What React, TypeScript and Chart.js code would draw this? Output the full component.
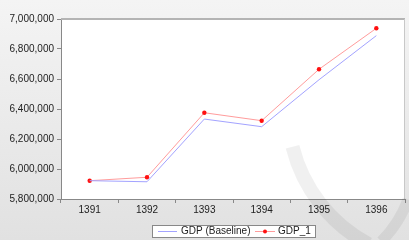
import React, { useEffect, useRef } from "react";
import { Chart, registerables } from "chart.js";

Chart.register(...registerables);

const years = ["1391", "1392", "1393", "1394", "1395", "1396"];
const gdpBaseline = [5922000, 5915000, 6333000, 6282000, 6595000, 6889000];
const gdp1 = [5922000, 5945000, 6375000, 6322000, 6665000, 6938000];
const yMin = 5800000;
const yMax = 7000000;
const yStep = 200000;
const legendLabels = ["GDP (Baseline)", "GDP_1"];

const FONT = "'Liberation Sans', Arial, sans-serif";
const BLUE = "#a3a3ff";
const RED = "#ff9c9c";
const RED_DOT = "#ff1010";

const framePlugin = {
  id: "frame",
  beforeDraw(chart: any) {
    const { ctx, width, height, chartArea } = chart;
    ctx.save();
    const g = ctx.createLinearGradient(0, 0, 0, height);
    g.addColorStop(0, "#f4f4f4");
    g.addColorStop(1, "#e1e1e1");
    ctx.fillStyle = g;
    ctx.fillRect(0, 0, width, height);
    ctx.fillStyle = "#ffffff";
    ctx.fillRect(chartArea.left, chartArea.top, chartArea.right - chartArea.left, chartArea.bottom - chartArea.top);
    ctx.restore();
  },
  afterDraw(chart: any) {
    const { ctx, chartArea } = chart;
    ctx.save();
    // frame lines
    ctx.strokeStyle = "#b4b4b4";
    ctx.lineWidth = 2;
    ctx.beginPath();
    ctx.moveTo(chartArea.left, chartArea.top);
    ctx.lineTo(chartArea.right, chartArea.top);
    ctx.stroke();
    ctx.lineWidth = 1;
    ctx.strokeStyle = "#c8c8c8";
    ctx.beginPath();
    ctx.moveTo(chartArea.right - 0.5, chartArea.top);
    ctx.lineTo(chartArea.right - 0.5, chartArea.bottom);
    ctx.stroke();

    // faint watermark arcs
    ctx.globalAlpha = 0.06;
    ctx.strokeStyle = "#000000";
    ctx.lineWidth = 14;
    ctx.beginPath();
    ctx.arc(440, 110, 152, (118 * Math.PI) / 180, (166 * Math.PI) / 180);
    ctx.stroke();
    ctx.lineWidth = 11;
    ctx.beginPath();
    ctx.arc(300, 160, 115, (20 * Math.PI) / 180, (45 * Math.PI) / 180);
    ctx.stroke();
    ctx.globalAlpha = 1;

    // legend
    const bx = 152.5, by = 225.5, bw = 163, bh = 12;
    ctx.fillStyle = "#ffffff";
    ctx.fillRect(bx, by, bw, bh);
    ctx.strokeStyle = "#888888";
    ctx.lineWidth = 1;
    ctx.strokeRect(bx, by, bw, bh);
    const cy = 231.5;
    ctx.strokeStyle = BLUE;
    ctx.beginPath();
    ctx.moveTo(158, cy);
    ctx.lineTo(177, cy);
    ctx.stroke();
    ctx.strokeStyle = RED;
    ctx.beginPath();
    ctx.moveTo(255, cy);
    ctx.lineTo(275, cy);
    ctx.stroke();
    ctx.fillStyle = RED_DOT;
    ctx.beginPath();
    ctx.arc(265, cy, 2, 0, Math.PI * 2);
    ctx.fill();
    ctx.fillStyle = "#222222";
    ctx.font = `10px ${FONT}`;
    ctx.textBaseline = "middle";
    ctx.textAlign = "left";
    ctx.fillText(legendLabels[0], 181, cy);
    ctx.fillText(legendLabels[1], 278, cy);
    ctx.restore();
  },
};

export default function App() {
  const ref = useRef<HTMLCanvasElement>(null);
  useEffect(() => {
    document.body.style.margin = "0";
    const chart = new Chart(ref.current!, {
      type: "line",
      data: {
        labels: years,
        datasets: [
          {
            label: legendLabels[0],
            data: gdpBaseline,
            borderColor: BLUE,
            borderWidth: 1,
            pointRadius: 0,
            tension: 0,
          },
          {
            label: legendLabels[1],
            data: gdp1,
            borderColor: RED,
            borderWidth: 1,
            pointRadius: 2.2,
            pointBackgroundColor: RED_DOT,
            pointBorderColor: RED_DOT,
            pointBorderWidth: 0,
            tension: 0,
          },
        ],
      },
      options: {
        animation: false,
        responsive: false,
        devicePixelRatio: 1,
        layout: { padding: { top: 19, right: 0, bottom: 22, left: 0 } },
        plugins: { legend: { display: false }, tooltip: { enabled: false } },
        scales: {
          x: {
            offset: true,
            grid: { offset: true, drawOnChartArea: false, drawTicks: true, tickLength: 4, color: "#888888" },
            border: { display: true, color: "#888888" },
            ticks: { font: { family: FONT, size: 10 }, color: "#222222", padding: 1, maxRotation: 0 },
            afterFit: (s: any) => { s.height = 19; },
          },
          y: {
            min: yMin,
            max: yMax,
            grid: { drawOnChartArea: false, drawTicks: true, tickLength: 4, color: "#888888" },
            border: { display: true, color: "#888888" },
            ticks: {
              stepSize: yStep,
              font: { family: FONT, size: 10 },
              color: "#222222",
              padding: 3,
              callback: (v: any) => Number(v).toLocaleString("en-US"),
            },
            afterFit: (s: any) => { s.width = 61; },
          },
        },
      },
      plugins: [framePlugin],
    });
    return () => chart.destroy();
  }, []);
  return (
    <div style={{ position: "fixed", left: 0, top: 0, width: 409, height: 240 }}>
      <canvas ref={ref} width={409} height={240} />
    </div>
  );
}
